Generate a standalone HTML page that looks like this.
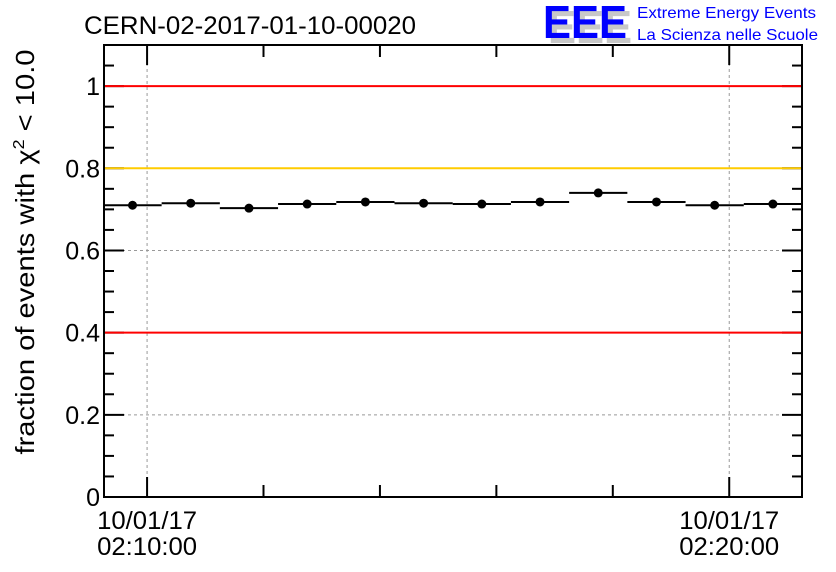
<!DOCTYPE html>
<html><head><meta charset="utf-8"><style>
body{margin:0;background:#fff;}
svg{display:block;font-family:"Liberation Sans",sans-serif;}
</style></head><body>
<svg id="c" width="836" height="572" viewBox="0 0 836 572">
<text x="84" y="34" font-size="25" fill="#000" textLength="332" lengthAdjust="spacingAndGlyphs">CERN-02-2017-01-10-00020</text>
<g>
<text x="548" y="43" font-size="46" font-weight="bold" fill="#c8c8c8" textLength="84" lengthAdjust="spacingAndGlyphs">EEE</text>
<text x="543" y="38" font-size="46" font-weight="bold" fill="#0000ff" textLength="84" lengthAdjust="spacingAndGlyphs">EEE</text>
<text x="637" y="18" font-size="16" fill="#0000ff" textLength="179" lengthAdjust="spacingAndGlyphs">Extreme Energy Events</text>
<text x="637" y="40" font-size="16" fill="#0000ff" textLength="181" lengthAdjust="spacingAndGlyphs">La Scienza nelle Scuole</text>
</g>
<g id="grid"></g><g id="refs"></g><g id="axes"></g><g id="marks"></g>
<text transform="translate(34,252) rotate(-90)" text-anchor="middle" font-size="26" textLength="405" lengthAdjust="spacingAndGlyphs">fraction of events with χ<tspan dy="-10" font-size="16">2</tspan><tspan dy="10"> &lt; 10.0</tspan></text>
</svg>
<script>
const values=[0.710,0.715,0.703,0.713,0.718,0.715,0.713,0.718,0.740,0.718,0.710,0.713];
const binMinutes=[-0.25,0.75,1.75,2.75,3.75,4.75,5.75,6.75,7.75,8.75,9.75,10.75];
const yTicks=[0,0.2,0.4,0.6,0.8,1];
const yTickLabels=["0","0.2","0.4","0.6","0.8","1"];
const refLines=[1,0.8,0.4];
const refColors=["#ff0000","#ffcc00","#ff0000"];
const xLabelMinutes=[0,10];
const xLabels=[["10/01/17","02:10:00"],["10/01/17","02:20:00"]];
const L=104,R=802,T=45,B=497,ymax=1.1,xmin=-0.74,xmax=11.25;
const X=m=>L+(m-xmin)/(xmax-xmin)*(R-L);
const Y=v=>B-v/ymax*(B-T);
const NS="http://www.w3.org/2000/svg";
function mk(p,t,a){const e=document.createElementNS(NS,t);for(const k in a)e.setAttribute(k,a[k]);document.getElementById(p).appendChild(e);return e;}
yTicks.forEach(v=>{if(v>0){const e=mk('grid','line',{x1:L,x2:R,y1:Y(v),y2:Y(v),stroke:'#999','stroke-dasharray':'3,3'});

}});
xLabelMinutes.forEach(m=>{const e=mk('grid','line',{x1:X(m),x2:X(m),y1:T,y2:B,stroke:'#999','stroke-dasharray':'3,3'});

});
const f=mk('axes','rect',{x:L,y:T,width:R-L,height:B-T,fill:'none',stroke:'#000','stroke-width':2});


for(let v=0;v<=1.1001;v+=0.05){const maj=Math.abs(v/0.2-Math.round(v/0.2))<1e-6;const l=maj?20:10;
mk('axes','line',{x1:L,x2:L+l,y1:Y(v),y2:Y(v),stroke:'#000','stroke-width':2});
mk('axes','line',{x1:R-l,x2:R,y1:Y(v),y2:Y(v),stroke:'#000','stroke-width':2});}
refLines.forEach((v,i)=>{const e=mk('axes','line',{x1:L+1,x2:R-1,y1:Y(v),y2:Y(v),stroke:refColors[i],'stroke-width':2});

});
yTicks.forEach((v,i)=>{const t=mk('axes','text',{x:L-4,y:Y(v)+9,'text-anchor':'end','font-size':25});t.textContent=yTickLabels[i];

});
for(let m=0;m<=10;m+=2){const l=(m===0||m===10)?20:12;
mk('axes','line',{x1:X(m),x2:X(m),y1:B,y2:B-l,stroke:'#000','stroke-width':2});
mk('axes','line',{x1:X(m),x2:X(m),y1:T,y2:T+l,stroke:'#000','stroke-width':2});}
xLabelMinutes.forEach((m,i)=>{xLabels[i].forEach((s,j)=>{const t=mk('axes','text',{x:X(m),y:529+j*26,'text-anchor':'middle','font-size':25,textLength:100,lengthAdjust:'spacingAndGlyphs'});t.textContent=s;

});});
values.forEach((v,i)=>{const cx=X(binMinutes[i]);const w=X(0.5)-X(0);
const l=mk('marks','line',{x1:cx-w,x2:cx+w,y1:Y(v),y2:Y(v),stroke:'#000','stroke-width':2});


const c=mk('marks','circle',{cx:cx,cy:Y(v),r:4.5,fill:'#000'});

});
</script>
</body></html>
